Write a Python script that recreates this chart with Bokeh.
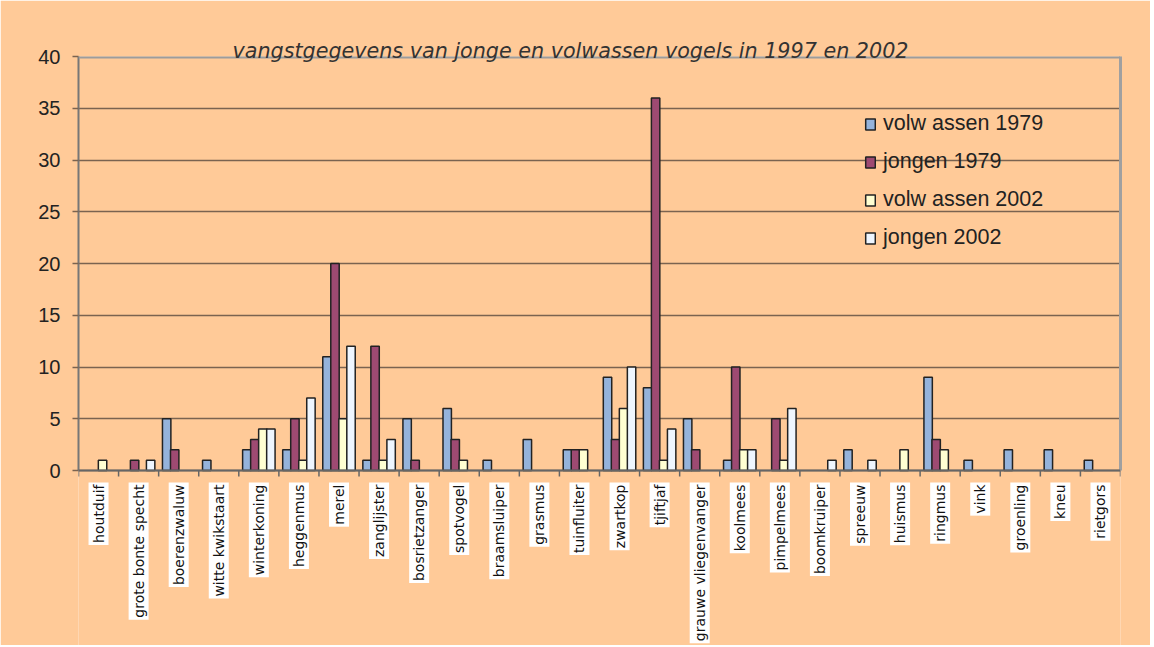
import math
from bokeh.plotting import figure
from bokeh.models import (ColumnDataSource, Range1d, FactorRange, LinearAxis,
                          FixedTicker, Label, Legend, LegendItem, Span)
from bokeh.transform import dodge
from bokeh.embed import file_html
from bokeh.resources import INLINE

species = ["houtduif", "grote bonte specht", "boerenzwaluw", "witte kwikstaart",
           "winterkoning", "heggenmus", "merel", "zanglijster", "bosrietzanger",
           "spotvogel", "braamsluiper", "grasmus", "tuinfluiter", "zwartkop",
           "tjiftjaf", "grauwe vliegenvanger", "koolmees", "pimpelmees",
           "boomkruiper", "spreeuw", "huismus", "ringmus", "vink", "groenling",
           "kneu", "rietgors"]

volw_1979 = [0, 0, 5, 1, 2, 2, 11, 1, 5, 6, 1, 3, 2, 9, 8, 5, 1, 0, 0, 2, 0, 9, 1, 2, 2, 1]
jong_1979 = [0, 1, 2, 0, 3, 5, 20, 12, 1, 3, 0, 0, 2, 3, 36, 2, 10, 5, 0, 0, 0, 3, 0, 0, 0, 0]
volw_2002 = [1, 0, 0, 0, 4, 1, 5, 1, 0, 1, 0, 0, 2, 6, 1, 0, 2, 1, 0, 0, 2, 2, 0, 0, 0, 0]
jong_2002 = [0, 1, 0, 0, 4, 7, 12, 3, 0, 0, 0, 0, 0, 10, 4, 0, 2, 6, 1, 1, 0, 0, 0, 0, 0, 0]

series_names = ["volw assen 1979", "jongen 1979", "volw assen 2002", "jongen 2002"]
series_values = [volw_1979, jong_1979, volw_2002, jong_2002]
series_colors = ["#95B3DB", "#9E4A72", "#FFFFD2", "#EEF6FF"]
offsets = [-0.3, -0.1, 0.1, 0.3]

y_ticks = list(range(0, 41, 5))
Y_MAX = 40
title_text = "vangstgegevens van jonge en volwassen vogels in 1997 en 2002"

BG = "#FFCA98"
W, H = 1150, 645
LEFT, RIGHT, TOP = 78, 30, 56
ZERO_PX = 470                      # page row of the value 0

px_per_unit = (ZERO_PX - TOP) / Y_MAX
y_bottom = -(H - ZERO_PX) / px_per_unit

x_range = FactorRange(factors=species)

p = figure(width=W, height=H, output_backend="svg", toolbar_location=None,
           x_range=x_range, y_range=Range1d(y_bottom, Y_MAX),
           x_axis_location=None,
           background_fill_color=BG, border_fill_color=BG,
           min_border_left=LEFT, min_border_right=RIGHT, min_border_top=TOP,
           min_border_bottom=0)
p.outline_line_color = None

# title
p.title.text = title_text
p.title.align = "left"
p.title.offset = 154
p.title.standoff = -13
p.title.text_font = "DejaVu Sans"
p.title.text_font_style = "italic"
p.title.text_font_size = "20.7px"
p.title.text_color = "#333333"

# left value axis, limited to 0..40
p.yaxis.ticker = FixedTicker(ticks=y_ticks)
p.yaxis.bounds = (0, Y_MAX)
p.yaxis.axis_line_color = "#777777"
p.yaxis.axis_line_width = 2
p.yaxis.major_tick_out = 6
p.yaxis.major_tick_in = 0
p.yaxis.major_tick_line_color = "#7a6350"
p.yaxis.major_tick_line_width = 1.5
p.yaxis.minor_tick_line_color = None
p.yaxis.major_label_text_font = "Liberation Sans"
p.yaxis.major_label_text_font_size = "20px"
p.yaxis.major_label_text_color = "#222222"
p.yaxis.major_label_standoff = 12

# right border of the plot area
right_axis = LinearAxis(ticker=FixedTicker(ticks=[]), bounds=(0, Y_MAX),
                        axis_line_color="#a0a0a0", axis_line_width=3,
                        major_tick_line_color=None, minor_tick_line_color=None,
                        major_label_text_alpha=0, major_label_text_font_size="2px")
p.add_layout(right_axis, "right")

p.xgrid.visible = False
p.ygrid.grid_line_color = "#7a6350"
p.ygrid.grid_line_width = 1.5

# bars
items = []
for name, vals, col, off in zip(series_names, series_values, series_colors, offsets):
    cats = [c for c, v in zip(species, vals) if v > 0]
    tops = [v for v in vals if v > 0]
    src = ColumnDataSource(dict(cat=cats, val=tops))
    r = p.vbar(x=dodge("cat", off, range=x_range), top="val", width=0.21,
               source=src, fill_color=col, line_color="#222222", line_width=1.5)
    items.append(LegendItem(label=name, renderers=[r]))

# top border and category axis line
p.add_layout(Span(location=Y_MAX, dimension="width", line_color="#9c9c9c",
                  line_width=4))
p.add_layout(Span(location=0, dimension="width", line_color="#666666",
                  line_width=2))

# tick marks at the category boundaries (left edge of every category + right end)
tick_len = 6 / px_per_unit
tick_src = ColumnDataSource(dict(cat=species, y0=[0] * len(species),
                                 y1=[-tick_len] * len(species)))
p.segment(x0=dodge("cat", -0.5, range=x_range), y0="y0",
          x1=dodge("cat", -0.5, range=x_range), y1="y1", source=tick_src,
          line_color="#666666", line_width=1.5)
end_src = ColumnDataSource(dict(cat=[species[-1]], y0=[0], y1=[-tick_len]))
p.segment(x0=dodge("cat", 0.5, range=x_range), y0="y0",
          x1=dodge("cat", 0.5, range=x_range), y1="y1", source=end_src,
          line_color="#666666", line_width=1.5)

legend = Legend(items=items, location=(786, 220 + (H - ZERO_PX)), padding=0, margin=0,
                spacing=13, glyph_width=12, glyph_height=14, label_height=22,
                label_standoff=7, background_fill_alpha=0, border_line_color=None,
                label_text_font="Liberation Sans", label_text_font_size="21.5px",
                label_text_color="#222222")
p.add_layout(legend)

# vertical category labels in white boxes, centred on each category
label_props = Label.properties()
for i, sp in enumerate(species):
    kw = dict(x=i + 0.5, y=-12 / px_per_unit, text=sp, angle=math.pi / 2,
              text_align="right", text_baseline="middle",
              text_font="DejaVu Sans", text_font_size="14px",
              text_color="#111111", background_fill_color="white")
    if "padding" in label_props:
        kw["padding"] = 2
    p.add_layout(Label(**kw))

open("out.html", "w").write(file_html(p, INLINE))
